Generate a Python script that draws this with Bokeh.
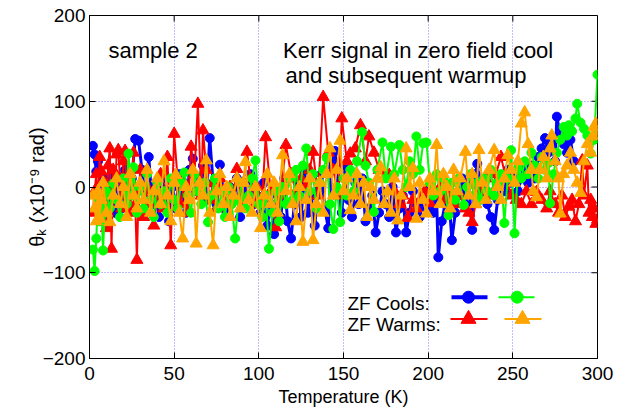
import math
from bokeh.plotting import figure
from bokeh.models import Label, FixedTicker, Range1d
from bokeh.embed import file_html
from bokeh.resources import INLINE

# ---------------- data ----------------
# ZF cool, run 1 (blue circles)
cool1_T = [2, 3, 4, 5, 7, 9, 11, 13, 15, 17,
           19, 21, 23, 25, 27, 29, 31, 33, 35, 37,
           39, 41, 43, 45, 47, 49, 51, 53, 55, 57,
           59, 61, 63, 65, 67, 69, 71, 73, 75, 77,
           79, 81, 83, 85, 87, 89, 91, 93, 95, 97,
           99, 101, 103, 105, 107, 109, 111, 113, 115, 117,
           119, 121, 123, 125, 127, 129, 131, 133, 135, 137,
           139, 141, 143, 145, 147, 149, 151, 153, 155, 157,
           159, 161, 163, 165, 167, 169, 171, 173, 175, 177,
           179, 181, 183, 185, 187, 189, 191, 193, 195, 197,
           199, 201, 203, 205, 206, 208, 210, 212, 214, 216,
           218, 220, 222, 224, 226, 228, 229, 231, 233, 235,
           237, 239, 241, 243, 245, 247, 249, 251, 253, 255,
           257, 259, 261, 263, 265, 267, 269, 271, 273, 275,
           276, 278, 280, 282, 284, 286]
cool1_theta = [48, 38, 18, 30, -5, 10, -20, 15, -30, 5,
               -25, 20, -10, 10, 56, 54, 20, -15, 35, -20,
               5, -35, 10, -15, -40, 0, -25, 15, -10, -30,
               20, 33, -5, 10, 25, -15, 57, 5, -20, 26,
               -5, -30, 0, -15, 10, -35, -5, 5, 15, -20,
               -10, -30, 5, -45, -20, -55, -10, -35, 10, -40,
               -60, -20, 5, -35, 20, -30, -10, -45, -5, 15,
               -25, -48, 25, 42, -10, -30, 25, -15, -35, 5,
               -20, 10, -40, -25, -10, -53, -30, -5, -20, -35,
               0, -53, -25, -10, -53, -30, -5, -20, -35, -10,
               -25, 0, -30, -15, -82, -40, -20, -5, -62, -30,
               -10, 10, -20, 5, -50, 15, 27, -10, 5, -20,
               -35, -50, -15, 10, -5, 20, 5, 15, -5, 10,
               20, 5, 25, 10, 35, 45, 57, 40, 50, 30,
               82, 60, 50, 40, 55, 30]

# ZF cool, run 2 (green circles)
cool2_T = [2, 3, 4, 5, 6, 7, 8, 9, 10, 12,
           14, 16, 18, 20, 22, 23, 25, 26, 28, 30,
           32, 34, 36, 38, 40, 42, 44, 46, 48, 50,
           52, 54, 56, 58, 60, 62, 64, 66, 68, 70,
           72, 74, 76, 78, 80, 82, 84, 86, 88, 90,
           92, 94, 96, 98, 100, 102, 104, 106, 108, 110,
           112, 114, 116, 118, 120, 122, 124, 126, 128, 130,
           132, 134, 136, 138, 140, 142, 144, 146, 148, 150,
           152, 154, 156, 158, 161, 163, 165, 168, 170, 173,
           175, 178, 180, 183, 185, 187, 189, 191, 193, 195,
           197, 199, 201, 203, 205, 207, 209, 212, 214, 216,
           218, 221, 223, 225, 227, 229, 231, 233, 235, 237,
           239, 241, 243, 245, 247, 249, 251, 253, 255, 257,
           259, 261, 263, 265, 267, 269, 271, 272, 274, 276,
           278, 280, 282, 283, 285, 287, 288, 290, 292, 294,
           296, 298, 300]
cool2_theta = [-73, -98, -60, -13, -40, -20, -74, -30, -5, -25,
               4, -15, -35, 10, -20, 39, -10, 23, -30, 0,
               -25, 15, -15, -35, 5, -20, -5, -30, 10, -15,
               -25, 5, 17, -10, -30, 15, -5, -20, 5, -41,
               -10, 10, -25, -5, -35, 0, -20, -60, -15, 5,
               -25, -10, 10, 31, -20, -35, -10, -72, -30, -5,
               -40, 0, -20, 10, -15, 20, -10, 25, 45, -5,
               15, -25, 5, 20, 34, -20, -49, 0, -41, 10,
               -10, 20, -5, 30, 64, 25, 5, -29, 20, 52,
               10, 47, 15, 49, 20, 0, 30, 15, 59, 20,
               51, 52, 5, -10, 15, -5, 10, -33, 5, -15,
               10, -21, 0, 15, -10, 5, -15, 10, -5, 20,
               -10, 5, 15, -42, 10, 43, -54, 22, 10, 30,
               15, 40, 25, 10, 35, 20, 28, -19, 15, 40,
               55, 70, 60, 72, 65, 80, 97, 75, 68, 60,
               39, 55, 131]

# ZF warm, run 1 (red triangles)
warm1_T = [2, 3, 4, 5, 6, 7, 8, 9, 10, 11,
           12, 13, 14, 15, 16, 17, 18, 19, 20, 21,
           22, 23, 24, 25, 26, 27, 28, 29, 30, 32,
           34, 36, 38, 40, 42, 44, 46, 48, 50, 52,
           54, 56, 58, 60, 62, 64, 66, 67, 69, 71,
           73, 75, 77, 79, 81, 83, 85, 87, 89, 91,
           93, 95, 97, 99, 102, 104, 107, 110, 113, 116,
           119, 122, 125, 128, 130, 132, 135, 138, 141, 144,
           147, 149, 152, 154, 157, 160, 163, 165, 168, 171,
           174, 177, 180, 183, 185, 188, 191, 193, 196, 198,
           201, 204, 207, 210, 213, 216, 219, 222, 224, 226,
           228, 231, 234, 237, 240, 243, 246, 249, 252, 255,
           258, 261, 264, 267, 270, 272, 275, 277, 279, 281,
           283, 285, 287, 289, 291, 292, 294, 295, 296, 297,
           298, 299, 300]
warm1_theta = [-30, -5, 15, -20, 35, 18, -10, 5, -48, 25,
               45, -72, 20, -15, 38, 43, 10, -25, 30, 42,
               -10, 15, -30, 5, 40, -20, -85, -5, 20, -35,
               0, -20, -45, -10, 15, -25, 35, -68, 62, 10,
               -20, 5, -30, 47, 15, 97, -10, 66, 20, -15,
               5, -25, 10, -5, -20, 0, -10, 21, -15, 5,
               41, 10, -20, 0, -15, 58, -5, -47, -10, 49,
               15, -5, 10, 2, 20, 41, -10, 105, 40, 20,
               -10, 80, 30, 39, 45, 72, 30, 59, 40, 20,
               10, 14, -5, -20, -10, -36, -15, -25, -13, -5,
               -19, -10, 0, -15, -5, -20, -10, -25, -30, -41,
               -20, -5, 10, -10, 15, 35, 10, -10, -15, -20,
               -5, -20, -6, -15, -25, -5, -20, -30, -10, -35,
               -23, -15, -40, -20, 31, -10, 25, -30, -15, -35,
               -25, -43, -38]

# ZF warm, run 2 (orange triangles)
warm2_T = [2, 3, 4, 5, 6, 7, 8, 10, 12, 14,
           16, 18, 20, 22, 24, 26, 28, 30, 32, 34,
           36, 38, 40, 42, 44, 46, 48, 50, 51, 53,
           55, 57, 59, 61, 63, 65, 67, 69, 71, 73,
           75, 77, 79, 81, 83, 85, 87, 89, 91, 92,
           94, 96, 98, 101, 103, 105, 107, 109, 111, 114,
           116, 118, 120, 122, 124, 126, 128, 130, 132, 134,
           136, 138, 140, 142, 144, 146, 148, 150, 152, 154,
           156, 158, 160, 162, 164, 166, 168, 170, 172, 174,
           176, 178, 180, 182, 184, 187, 189, 191, 193, 195,
           197, 199, 201, 203, 205, 207, 209, 211, 213, 215,
           217, 219, 222, 224, 226, 228, 230, 232, 234, 236,
           239, 241, 243, 245, 247, 249, 251, 253, 255, 257,
           259, 261, 262, 264, 266, 268, 270, 272, 273, 275,
           277, 278, 280, 282, 284, 286, 288, 290, 292, 294,
           296, 297, 298, 299, 300]
warm2_theta = [-10, -25, -40, -5, -37, -15, 5, -30, -41, -10,
               10, -20, 0, -35, 15, -10, -25, 5, -15, 20,
               -30, -5, 10, -20, 30, -10, -40, 5, 14, -30,
               -60, 0, -15, 20, -66, 5, -10, 31, -30, -68,
               -5, 15, -20, 0, -35, -10, 10, -25, 5, 29,
               -15, -30, 0, -48, -10, 15, -20, 5, -30, 37,
               -5, 15, -20, -40, 0, -64, -15, 10, -62, -20,
               5, -30, 15, 45, -10, 20, 54, -5, 10, -27,
               -10, 15, -20, 5, -35, 0, -15, 10, 23, -20,
               -5, -30, 10, -39, -10, 45, 0, 22, -37, 5,
               -15, -31, 10, -5, 49, -20, 15, 0, -25, 20,
               -5, 10, 41, -10, 15, -20, 43, 5, -15, 20,
               43, 0, -15, 10, 37, 20, 5, 30, 74, 87,
               50, 20, -5, -12, 20, 35, 10, 45, 60, 30,
               10, -31, 15, 25, 40, 20, 5, -7, 30, 50,
               40, 59, 70, 74, 60]

X_TICKS = [0, 50, 100, 150, 200, 250, 300]
Y_TICKS = [-200, -100, 0, 100, 200]
X_GRID = [50, 100, 150, 200, 250]
Y_GRID = [-100, 0, 100]

X_LABEL = "Temperature (K)"
Y_LABEL = "θ\u2096 (x10\u207b\u2079 rad)"

# ---------------- layout ----------------
FONT = "Liberation Sans"
FW, FH = 508, 343          # frame size in px
L, T = 89, 15              # frame offset in px
X_MIN, X_MAX, Y_MIN, Y_MAX = 0, 300, -200, 200
TICK_PX = 6


def dx(px):
    return X_MIN + (px - L) * (X_MAX - X_MIN) / FW


def dy(py):
    return Y_MAX - (py - T) * (Y_MAX - Y_MIN) / FH


p = figure(frame_width=FW, frame_height=FH,
           x_range=Range1d(X_MIN, X_MAX), y_range=Range1d(Y_MIN, Y_MAX),
           output_backend="svg", toolbar_location=None,
           min_border_left=L, min_border_right=623 - L - FW,
           min_border_top=T, min_border_bottom=412 - T - FH,
           background_fill_color="white", border_fill_color="white",
           outline_line_color="black", outline_line_width=1)

for ax, ticks, standoff in ((p.xaxis[0], X_TICKS, 8), (p.yaxis[0], Y_TICKS, 4)):
    ax.ticker = FixedTicker(ticks=ticks)
    ax.major_label_text_font = FONT
    ax.major_label_text_font_size = "19px"
    ax.major_label_text_color = "black"
    ax.major_tick_in = TICK_PX
    ax.major_tick_out = 0
    ax.minor_tick_in = 0
    ax.minor_tick_out = 0
    ax.major_label_standoff = standoff
    ax.axis_line_color = "black"
    ax.major_tick_line_color = "black"
    ax.axis_label_text_font = FONT
    ax.axis_label_text_font_style = "normal"
    ax.axis_label_text_color = "black"

p.xaxis.axis_label = X_LABEL
p.xaxis.axis_label_text_font_size = "18px"
p.xaxis.axis_label_standoff = 4
p.yaxis.axis_label = Y_LABEL
p.yaxis.axis_label_text_font_size = "20px"
p.yaxis.axis_label_standoff = -8

p.xgrid.ticker = FixedTicker(ticks=X_GRID)
p.ygrid.ticker = FixedTicker(ticks=Y_GRID)
for g in (p.xgrid, p.ygrid):
    g.grid_line_color = "#7f7fff"
    g.grid_line_dash = "1 2"
    g.grid_line_width = 1

# mirrored inward ticks on the top and right frame edges
tx = TICK_PX * (X_MAX - X_MIN) / FW
ty = TICK_PX * (Y_MAX - Y_MIN) / FH
p.segment(x0=X_TICKS, y0=[Y_MAX] * len(X_TICKS), x1=X_TICKS, y1=[Y_MAX - ty] * len(X_TICKS),
          line_color="black", line_width=1)
p.segment(x0=[X_MAX] * len(Y_TICKS), y0=Y_TICKS, x1=[X_MAX - tx] * len(Y_TICKS), y1=Y_TICKS,
          line_color="black", line_width=1)

BLUE, GREEN, RED, ORANGE = "#0000ff", "#00ff00", "#ff0000", "#ffa500"


def series(T_, th, color, marker, lw, size):
    p.line(T_, th, line_color=color, line_width=lw)
    p.scatter(T_, th, marker=marker, size=size, fill_color=color, line_color=color)


series(cool1_T, cool1_theta, BLUE, "circle", 3, 9)
series(warm1_T, warm1_theta, RED, "triangle", 2, 12)
series(cool2_T, cool2_theta, GREEN, "circle", 2, 9)
series(warm2_T, warm2_theta, ORANGE, "triangle", 2, 12)

# ---------------- texts (canvas pixel positions, origin top-left) ----------------
def label(px, py, text, size):
    p.add_layout(Label(x=px, y=py, x_units="canvas", y_units="canvas",
                       text=text, text_font=FONT,
                       text_font_size=size, text_color="black",
                       text_align="left", text_baseline="alphabetic"))


label(108, 49.5, "sample 2", "22px")
label(282.5, 49.5, "Kerr signal in zero field cool", "22px")
label(285, 75, "and subsequent warmup", "22px")

# ---------------- legend ----------------
label(347, 302.7, "ZF Cools:", "19px")
label(347, 324.3, "ZF Warms:", "19px")


def swatch(px0, px1, py, pm, color, marker, lw, size):
    p.line([dx(px0), dx(px1)], [dy(py), dy(py)], line_color=color, line_width=lw)
    p.scatter([dx(pm)], [dy(py)], marker=marker, size=size, fill_color=color, line_color=color)


swatch(451, 487, 296.7, 468, BLUE, "circle", 4, 12)
swatch(498, 534, 296.7, 516.7, GREEN, "circle", 2, 12)
swatch(450, 487, 318.5, 468, RED, "triangle", 2, 15)
swatch(504, 541, 318.5, 522, ORANGE, "triangle", 2, 15)

open("out.html", "w").write(file_html(p, INLINE))
